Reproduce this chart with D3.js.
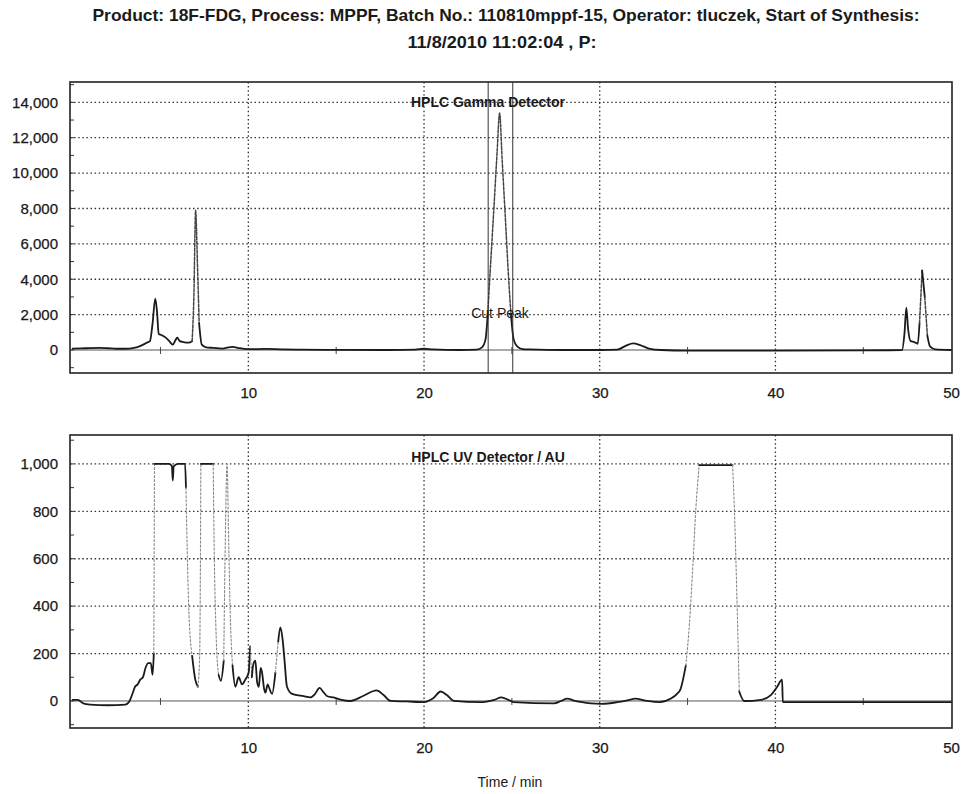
<!DOCTYPE html>
<html>
<head>
<meta charset="utf-8">
<script src="https://cdn.jsdelivr.net/npm/d3@7"></script>
<style>
  body { margin: 0; background: #fff; }
  text { font-family: "Liberation Sans", Arial, sans-serif; fill: #1a1a1a; }
</style>
</head>
<body>
<div class="canvas"></div>
<script>
// title
const titleLines = [
  'Product: 18F-FDG, Process: MPPF, Batch No.: 110810mppf-15, Operator: tluczek, Start of Synthesis:',
  '11/8/2010 11:02:04 , P:'
];

// tick labels
const timeTicks = [10, 20, 30, 40, 50];
const gammaTicks = [0, 2000, 4000, 6000, 8000, 10000, 12000, 14000];
const uvTicks = [0, 200, 400, 600, 800, 1000];

// cut peak markers (min)
const cutLines = [23.65, 25.05];

// gamma detector trace
const gammaTime = [0, 0.5, 1.0, 1.5, 2.0, 2.5, 3.0, 3.5, 3.9, 4.2, 4.4, 4.55, 4.7, 4.8, 4.9, 5.05, 5.3, 5.5, 5.7, 5.85, 5.95, 6.1, 6.3, 6.6, 6.8, 6.9, 7.0, 7.1, 7.2, 7.35, 7.6, 8.0, 8.5, 9.1, 9.5, 10.0, 11, 12, 13, 15, 18, 19.5, 20, 20.5, 22, 23, 23.3, 23.5, 23.63, 23.78, 23.97, 24.16, 24.3, 24.45, 24.64, 24.83, 24.95, 25.1, 25.3, 25.6, 26, 28, 30, 31, 31.5, 31.9, 32.3, 32.8, 33.5, 35, 40, 45, 47.2, 47.35, 47.45, 47.55, 47.7, 47.9, 48.1, 48.2, 48.35, 48.5, 48.65, 48.8, 49.1, 50];
const gammaCounts = [80, 90, 110, 120, 100, 70, 70, 120, 250, 400, 500, 1500, 2900, 2200, 900, 850, 700, 500, 300, 550, 700, 500, 450, 420, 500, 3000, 7900, 5000, 1500, 300, 150, 120, 80, 180, 100, 50, 60, 30, 20, 10, 0, 20, 70, 30, 0, 20, 150, 600, 2100, 4700, 7900, 11200, 13400, 10700, 7250, 3800, 2000, 600, 200, 50, 30, 0, 0, 20, 250, 380, 280, 80, 0, -30, -30, -20, -10, 1000, 2400, 1200, 500, 450, 350, 1500, 4500, 3000, 800, 200, 30, 0];

// UV detector trace
const uvTime = [0, 0.3, 0.6, 1.0, 2.0, 3.0, 3.2, 3.3, 3.45, 3.55, 3.7, 3.85, 4.0, 4.15, 4.3, 4.45, 4.55, 4.62, 4.66, 5.0, 5.5, 5.65, 5.7, 5.75, 6.0, 6.4, 6.45, 6.6, 6.8, 6.98, 7.13, 7.23, 7.3, 7.7, 8.0, 8.05, 8.18, 8.31, 8.44, 8.6, 8.69, 8.79, 8.88, 8.97, 9.1, 9.26, 9.45, 9.64, 9.83, 10.02, 10.1, 10.2, 10.27, 10.4, 10.5, 10.6, 10.7, 10.78, 10.9, 10.97, 11.1, 11.16, 11.35, 11.54, 11.7, 11.82, 11.95, 12.05, 12.2, 12.49, 13.15, 13.53, 13.8, 14.05, 14.3, 14.5, 14.85, 15.3, 15.8, 16.5, 17.3, 17.7, 18.1, 19.0, 20.0, 20.5, 20.95, 21.3, 21.7, 23.2, 24.0, 24.4, 24.8, 25.1, 27.4, 27.8, 28.15, 28.6, 29.5, 30.1, 31.0, 31.7, 32.0, 32.7, 33.4, 34.05, 34.4, 34.6, 34.9, 35.1, 35.3, 35.47, 35.66, 36.0, 37.0, 37.56, 37.65, 37.8, 37.94, 38.22, 39.17, 39.74, 40.1, 40.38, 40.42, 45, 50];
const uvAbs = [5, 5, -10, -15, -18, -15, -5, 10, 40, 60, 70, 90, 100, 140, 160, 160, 110, 200, 1000, 1000, 1000, 990, 930, 990, 1000, 1000, 900, 410, 190, 90, 60, 190, 1000, 1000, 1000, 680, 250, 110, 85, 170, 680, 1000, 680, 370, 150, 60, 100, 70, 90, 120, 230, 100, 150, 170, 80, 60, 140, 120, 50, 35, 70, 60, 30, 120, 250, 310, 260, 180, 60, 30, 20, 15, 30, 55, 35, 20, 15, 5, 0, 20, 45, 25, 0, -2, -5, 10, 40, 25, 0, -5, 5, 15, 5, -5, -10, 0, 10, 0, -10, -12, -5, 5, 10, 0, -5, 10, 30, 50, 150, 320, 570, 810, 995, 995, 995, 995, 840, 460, 40, 0, 5, 25, 60, 90, -5, -5, -5];

const width = 963;
const height = 794;
const frame = { left: 70, right: 952 };

const svg = d3
  .select('.canvas')
  .append('svg')
  .attr('width', width)
  .attr('height', height);

// title, condensed bold like the printout
svg
  .selectAll('.title')
  .data(titleLines)
  .enter()
  .append('text')
  .attr('class', 'title')
  .attr('x', (d, i) => (i === 0 ? 506 : 502))
  .attr('y', (d, i) => (i === 0 ? 21 : 48))
  .attr('text-anchor', 'middle')
  .attr('font-size', 17)
  .attr('font-weight', 'bold')
  .attr('textLength', (d, i) => (i === 0 ? 827 : 189))
  .attr('lengthAdjust', 'spacingAndGlyphs')
  .text(d => d);

const x = d3.scaleLinear().domain([-0.15, 50.05]).range([frame.left, frame.right]);

const drawPanel = opts => {
  const { top, bottom, yDomain, ticks, minorStep, label, labelY, times, values, steepStyle } = opts;
  const y = d3.scaleLinear().domain(yDomain).range([bottom, top]);
  const g = svg.append('g');

  // dotted grid
  g.selectAll('.hgrid')
    .data(ticks.filter(t => t !== 0))
    .enter()
    .append('line')
    .attr('x1', frame.left)
    .attr('x2', frame.right)
    .attr('y1', d => y(d))
    .attr('y2', d => y(d))
    .attr('stroke', '#333')
    .attr('stroke-width', 1.3)
    .attr('stroke-dasharray', '1.5,2.6');
  g.selectAll('.vgrid')
    .data(timeTicks.filter(t => t < 50))
    .enter()
    .append('line')
    .attr('x1', d => x(d))
    .attr('x2', d => x(d))
    .attr('y1', top)
    .attr('y2', bottom)
    .attr('stroke', '#333')
    .attr('stroke-width', 1.3)
    .attr('stroke-dasharray', '1.5,2.6');

  // zero line
  g.append('line')
    .attr('x1', frame.left)
    .attr('x2', frame.right)
    .attr('y1', y(0))
    .attr('y2', y(0))
    .attr('stroke', '#555')
    .attr('stroke-width', 1);

  // small ticks on the zero line
  g.selectAll('.ztick')
    .data(d3.range(5, 50, 10))
    .enter()
    .append('line')
    .attr('x1', d => x(d))
    .attr('x2', d => x(d))
    .attr('y1', y(0) - 3)
    .attr('y2', y(0) + 4)
    .attr('stroke', '#444');

  // y axis
  const yAxis = d3
    .axisLeft(y)
    .tickValues(ticks)
    .tickSize(0)
    .tickPadding(12)
    .tickFormat(d3.format(','));
  const yAxisGroup = g.append('g').attr('transform', `translate(${frame.left}, 0)`).call(yAxis);
  yAxisGroup.select('.domain').remove();
  yAxisGroup
    .selectAll('text')
    .attr('font-size', 15)
    .attr('fill', '#111')
    .attr('stroke', '#111')
    .attr('stroke-width', 0.25)
    .attr('font-family', '"Liberation Sans", Arial, sans-serif');

  // minor ticks inside the frame
  const minor = d3.range(Math.ceil(yDomain[0] / minorStep) * minorStep, yDomain[1], minorStep);
  g.selectAll('.mtick')
    .data(minor)
    .enter()
    .append('line')
    .attr('x1', frame.left)
    .attr('x2', frame.left + 4)
    .attr('y1', d => y(d))
    .attr('y2', d => y(d))
    .attr('stroke', '#333');

  // x axis labels
  const xAxis = d3.axisBottom(x).tickValues(timeTicks).tickSize(0).tickPadding(14);
  const xAxisGroup = g.append('g').attr('transform', `translate(0, ${bottom})`).call(xAxis);
  xAxisGroup.select('.domain').remove();
  xAxisGroup
    .selectAll('text')
    .attr('font-size', 15)
    .attr('fill', '#111')
    .attr('stroke', '#111')
    .attr('stroke-width', 0.25)
    .attr('font-family', '"Liberation Sans", Arial, sans-serif');

  // trace: split into runs of steep / gentle segments, steep ones drawn light
  const pts = times.map((t, i) => [x(t), y(values[i])]);
  const isSteep = (a, b) => {
    const dx = Math.abs(b[0] - a[0]);
    const dy = Math.abs(b[1] - a[1]);
    return dy > 30 && dy > dx * 6;
  };
  const runs = [];
  d3.pairs(pts).forEach(([a, b]) => {
    const s = isSteep(a, b);
    const last = runs[runs.length - 1];
    if (last && last.steep === s) last.pts.push(b);
    else runs.push({ steep: s, pts: [a, b] });
  });
  const line = d3.line().curve(d3.curveMonotoneX);
  g.selectAll('.run')
    .data(runs)
    .enter()
    .append('path')
    .attr('d', d => line(d.pts))
    .attr('fill', 'none')
    .attr('stroke-linejoin', 'round')
    .attr('stroke-linecap', 'round')
    .attr('stroke', d => (d.steep ? steepStyle.color : '#1a1a1a'))
    .attr('stroke-width', d => (d.steep ? steepStyle.width : 1.8))
    .attr('stroke-dasharray', d => (d.steep ? steepStyle.dash : null));

  // frame
  g.append('rect')
    .attr('x', frame.left)
    .attr('y', top)
    .attr('width', frame.right - frame.left)
    .attr('height', bottom - top)
    .attr('fill', 'none')
    .attr('stroke', '#222')
    .attr('stroke-width', 1.6);

  // panel label
  g.append('text')
    .attr('x', 488)
    .attr('y', labelY)
    .attr('text-anchor', 'middle')
    .attr('font-size', 14)
    .attr('font-weight', 'bold')
    .text(label);

  return { g, y };
};

const gamma = drawPanel({
  top: 82,
  bottom: 373,
  yDomain: [-1300, 15150],
  ticks: gammaTicks,
  minorStep: 1000,
  label: 'HPLC Gamma Detector',
  labelY: 107,
  times: gammaTime,
  values: gammaCounts,
  steepStyle: { color: '#444', width: 1.5, dash: '3,1.5' }
});

// cut peak window
gamma.g
  .selectAll('.cut')
  .data(cutLines)
  .enter()
  .append('line')
  .attr('x1', d => x(d))
  .attr('x2', d => x(d))
  .attr('y1', 82)
  .attr('y2', 373)
  .attr('stroke', '#333')
  .attr('stroke-width', 1);
gamma.g
  .append('text')
  .attr('x', 500)
  .attr('y', 318)
  .attr('text-anchor', 'middle')
  .attr('font-size', 14)
  .text('Cut Peak');

drawPanel({
  top: 435,
  bottom: 728,
  yDomain: [-114, 1122],
  ticks: uvTicks,
  minorStep: 100,
  label: 'HPLC UV Detector / AU',
  labelY: 462,
  times: uvTime,
  values: uvAbs,
  steepStyle: { color: '#888', width: 1.1, dash: '2,2' }
});

svg
  .append('text')
  .attr('x', 510)
  .attr('y', 787)
  .attr('text-anchor', 'middle')
  .attr('font-size', 14)
  .text('Time / min');
</script>
</body>
</html>
